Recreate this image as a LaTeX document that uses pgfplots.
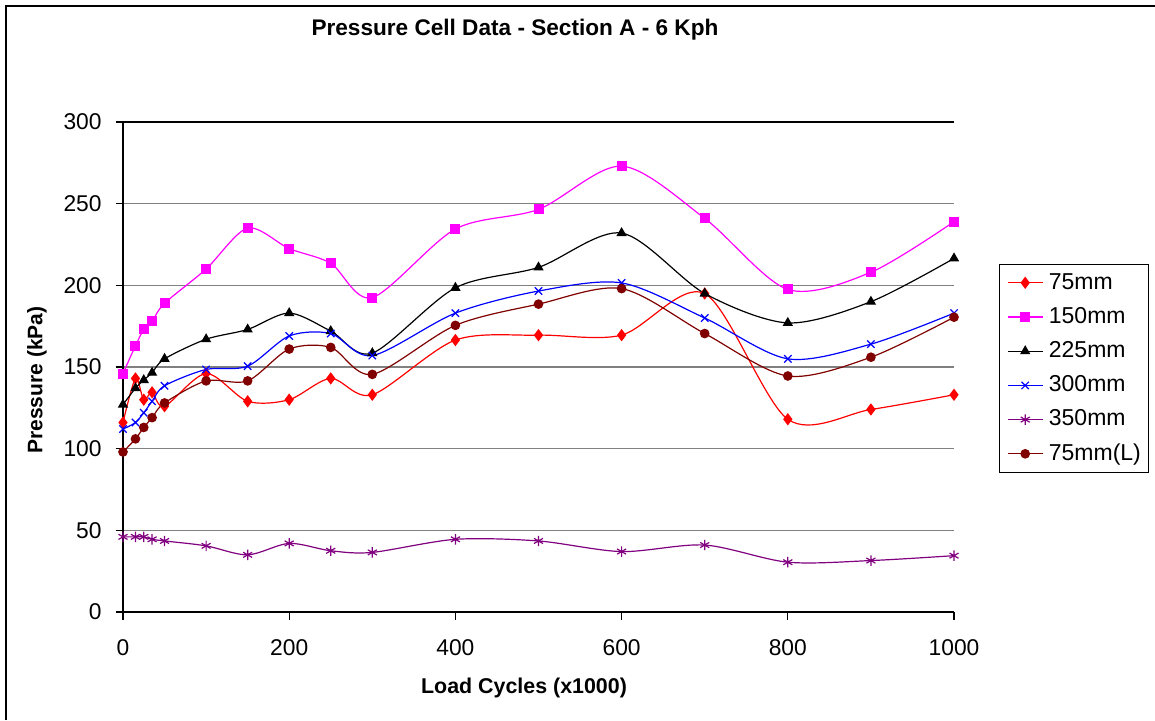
\documentclass[border=0pt]{standalone}
\usepackage{fontspec}
\setmainfont{Liberation Sans}
\usepackage{pgfplots}
\usepackage{pgfplotstable}
\pgfplotsset{compat=1.18}
\definecolor{cRed}{HTML}{FF0000}
\definecolor{cMag}{HTML}{FF00FF}
\definecolor{cBlue}{HTML}{0000FF}
\definecolor{cPurp}{HTML}{800080}
\definecolor{cDark}{HTML}{800000}
\pgfplotstableread{
x    a     b      c      d      e     f
0    116   146    127    112    46    98
15   143   163    137    116    46    106
25   130   173    142    122    46    113
35   134.5 178    146.5  129    44.5  119
50   126   189    155    138.5  43.5  128
100  146   210    167    148.5  40.5  141.5
150  129   235    173    150.5  35    141.5
200  130   222.5  183    169    42    161
250  143   213.5  172    170.5  37.5  162
300  133   192.5  158.5  157    36.5  145.5
400  166.5 234.5  198.5  183    44.5  175.5
500  169.5 246.5  211    196.5  43.5  188.5
600  169.5 273    232    201.5  37    198
700  195   241    195    180    41    170.5
800  118   197.5  177    155    30.5  144.5
900  124   208    190    164    31.5  156
1000 133   239    216.5  183    34.5  180.5
}\data
\begin{document}
\begin{tikzpicture}
\useasboundingbox (-61.5pt,-54pt) rectangle (516pt,306pt);
\draw[line width=0.7pt] (-58.5pt,-54pt) -- (-58.5pt,303pt) -- (516pt,303pt);
\begin{axis}[
  scale only axis, width=415.5pt, height=245pt,
  xmin=0, xmax=1000, ymin=0, ymax=300,
  xtick={0,200,...,1000}, ytick={0,50,...,250},
  extra y ticks={300},
  extra y tick style={grid style={black, line width=0.65pt}},
  axis x line*=bottom, axis y line*=left,
  axis line style={line width=0.6pt},
  tick align=outside, major tick length=3.75pt,
  tick style={black, line width=0.6pt},
  ymajorgrids, grid style={gray, line width=0.65pt},
  /pgf/number format/1000 sep={},
  /pgf/number format/assume math mode=true,
  ticklabel style={font=\fontsize{11.4}{13}\selectfont, inner sep=0pt},
  yticklabel style={anchor=east, xshift=-6.75pt},
  xticklabel style={anchor=north, yshift=-10pt},
  title={Pressure Cell Data - Section A - 6 Kph},
  title style={at={(axis description cs:0.4717,1.1633)}, anchor=center, font=\bfseries\fontsize{11.3}{13}\selectfont},
  xlabel={Load Cycles (x1000)},
  xlabel style={at={(axis description cs:0.4826,-0.1551)}, anchor=center, font=\bfseries\fontsize{10.7}{13}\selectfont},
  ylabel={Pressure (kPa)},
  ylabel style={at={(axis description cs:-0.1035,0.4735)}, anchor=center, font=\bfseries\fontsize{10.5}{13}\selectfont},
  legend style={at={(axis description cs:1.0542,0.7102)}, anchor=north west, draw=black, line width=0.5pt,
    font=\fontsize{11.5}{13}\selectfont, inner xsep=4pt, inner ysep=4pt, row sep=6.8pt, column sep=3pt,
    nodes={inner sep=0pt, text height=8.3pt, text depth=2pt}},
  legend cell align=left,
  every axis plot/.append style={line width=0.6pt, smooth, tension=0.5},
]
\addplot[color=cRed, mark=diamond*, mark size=2.6pt] table[x=x,y=a] {\data};
\addlegendentry{75mm}
\addplot[color=cMag, mark=square*, mark size=2.2pt] table[x=x,y=b] {\data};
\addlegendentry{150mm}
\addplot[color=black, mark=triangle*, mark size=2.4pt] table[x=x,y=c] {\data};
\addlegendentry{225mm}
\addplot[color=cBlue, mark=x, mark size=2.6pt] table[x=x,y=d] {\data};
\addlegendentry{300mm}
\addplot[color=cPurp, mark=asterisk, mark size=2.6pt] table[x=x,y=e] {\data};
\addlegendentry{350mm}
\addplot[color=cDark, mark=*, mark size=2.1pt] table[x=x,y=f] {\data};
\addlegendentry{75mm(L)}
\end{axis}
\end{tikzpicture}
\end{document}
